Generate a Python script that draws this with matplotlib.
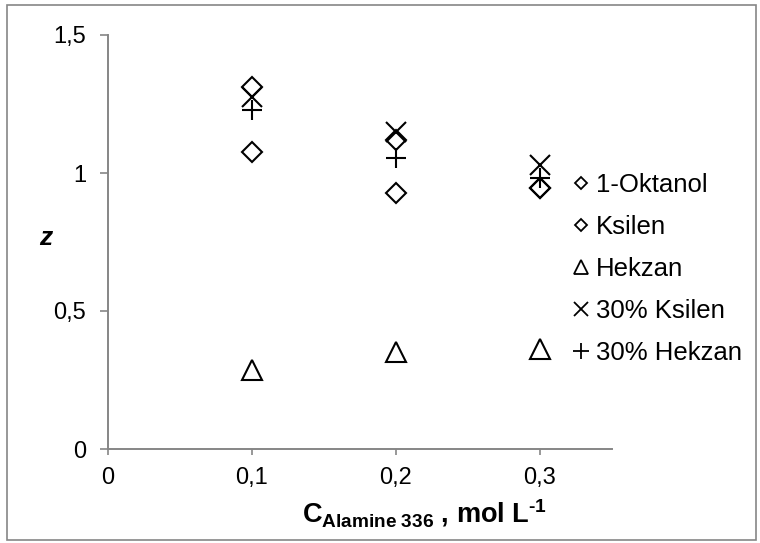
import matplotlib
matplotlib.use("Agg")
import matplotlib.pyplot as plt
from matplotlib.patches import Rectangle

plt.rcParams['font.family'] = ['Liberation Sans', 'DejaVu Sans']
plt.rcParams['mathtext.fontset'] = 'custom'
plt.rcParams['mathtext.rm'] = 'Liberation Sans'
plt.rcParams['mathtext.bf'] = 'Liberation Sans:bold'
plt.rcParams['mathtext.it'] = 'Liberation Sans:italic'

# data
conc = [0.1, 0.2, 0.3]
oktanol = [1.076, 0.928, 0.946]
ksilen = [1.31, 1.12, 0.946]
hekzan = [0.286, 0.35, 0.362]
ksilen30 = [1.275, 1.148, 1.029]
hekzan30 = [1.23, 1.054, 0.982]

x_ticks = [0, 0.1, 0.2, 0.3]
x_labels = ['0', '0,1', '0,2', '0,3']
y_ticks = [0, 0.5, 1, 1.5]
y_labels = ['0', '0,5', '1', '1,5']

axis_gray = '#868686'

fig = plt.figure(figsize=(7.6, 5.43), dpi=100)
ax = fig.add_axes([108/760, 1-449/543, (612-108)/760, (449-35)/543])

ax.plot(conc, oktanol, 'D', ms=10, mfc='none', mec='black', mew=1.5, label='1-Oktanol')
ax.plot(conc, ksilen, 'D', ms=10, mfc='none', mec='black', mew=1.5, label='Ksilen')
ax.plot(conc, hekzan, '^', ms=14, mfc='none', mec='black', mew=1.5, label='Hekzan')
ax.plot(conc, ksilen30, 'x', ms=15, mec='black', mew=1.5, label='30% Ksilen')
ax.plot(conc, hekzan30, '+', ms=14, mec='black', mew=1.5, label='30% Hekzan')

ax.set_xlim(0, 0.35)
ax.set_ylim(0, 1.5)
ax.set_xticks(x_ticks)
ax.set_xticklabels(x_labels)
ax.set_yticks(y_ticks)
ax.set_yticklabels(y_labels)

for s in ['top', 'right']:
    ax.spines[s].set_visible(False)
for s in ['left', 'bottom']:
    ax.spines[s].set_color(axis_gray)
    ax.spines[s].set_linewidth(1.4)
ax.tick_params(axis='both', direction='out', color=axis_gray, width=1.2, labelsize=17)
ax.tick_params(axis='y', length=5.8, pad=10)
ax.tick_params(axis='x', length=4.3, pad=9)

ax.set_xlabel('C$_{\\mathbf{Alamine\\ 336}}$ , mol L$^{\\mathbf{\u20101}}$', fontsize=19.5,
              fontweight='bold', va='center')
ax.xaxis.set_label_coords((425-108)/504, (449-513)/414)
ax.set_ylabel('z', fontsize=19, fontweight='bold', style='italic', rotation=0, va='center', ha='center')
ax.yaxis.set_label_coords((46-108)/504, (449-238)/414)

leg = ax.legend(loc='center left', bbox_to_anchor=(575/760, 1-269/543), bbox_transform=fig.transFigure,
                frameon=False, fontsize=18.5, handlelength=0.5, handletextpad=0.3, labelspacing=0.7,
                borderpad=0, borderaxespad=0)
legend_ms = [6.6, 6.6, 10.5, 9.5, 11]
for h, m in zip(leg.legend_handles, legend_ms):
    h.set_markersize(m)
    h.set_markeredgewidth(1.3)

fig.patches.append(Rectangle((7/760, 3/543), 749/760, 535/543, transform=fig.transFigure,
                             fill=False, edgecolor=axis_gray, linewidth=1.2))

fig.savefig('out.png', dpi=100)
